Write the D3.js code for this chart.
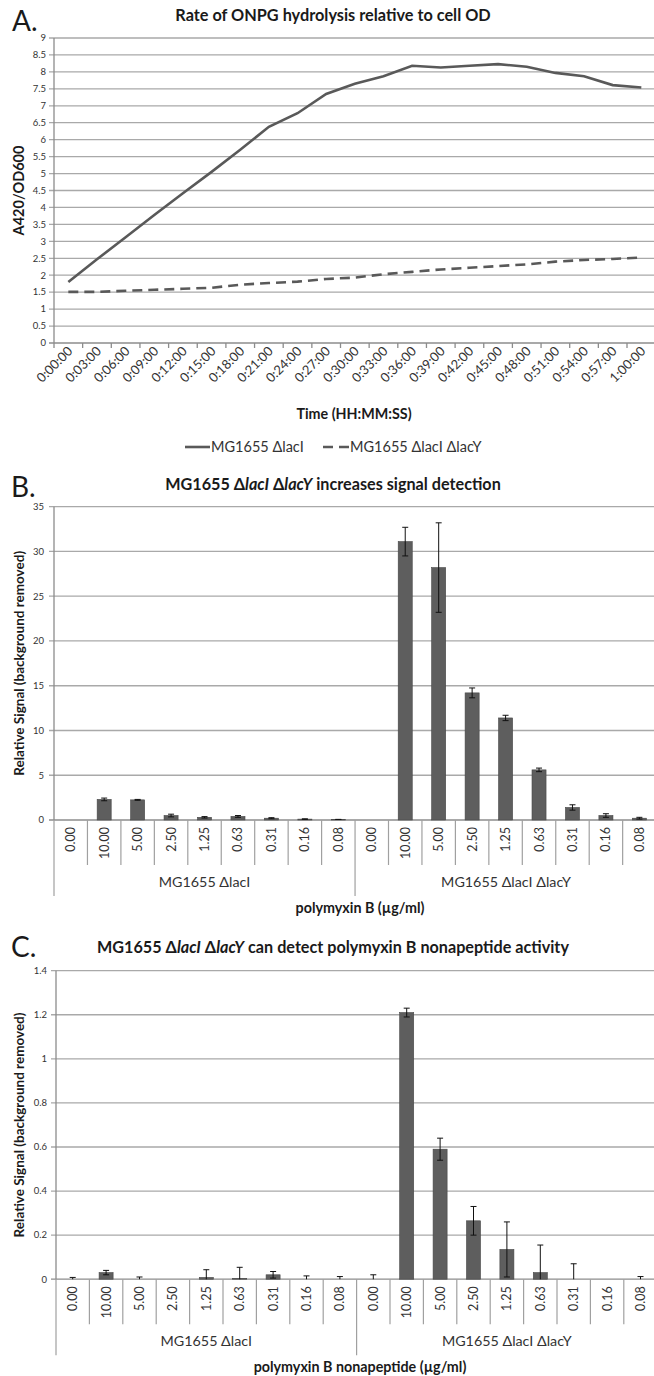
<!DOCTYPE html>
<html>
<head>
<meta charset="utf-8">
<script src="https://cdn.jsdelivr.net/npm/d3@7"></script>
<style>
  body { margin: 0; background: #fff; }
  svg { display: block; font-family: Lato, "Liberation Sans", sans-serif; }
</style>
</head>
<body>
<svg id="fig" width="654" height="1376"></svg>
<script>
// ---- panel A data: ONPG hydrolysis over time
const timeLabels = ['0:00:00','0:03:00','0:06:00','0:09:00','0:12:00','0:15:00','0:18:00',
  '0:21:00','0:24:00','0:27:00','0:30:00','0:33:00','0:36:00','0:39:00','0:42:00',
  '0:45:00','0:48:00','0:51:00','0:54:00','0:57:00','1:00:00'];
const rateLacI  = [1.8, 2.47, 3.12, 3.78, 4.42, 5.05, 5.7, 6.38, 6.78, 7.35, 7.65,
  7.87, 8.18, 8.13, 8.18, 8.23, 8.15, 7.97, 7.87, 7.61, 7.54];
const rateLacIY = [1.51, 1.51, 1.54, 1.57, 1.6, 1.63, 1.72, 1.77, 1.81, 1.89, 1.93,
  2.03, 2.1, 2.17, 2.22, 2.27, 2.32, 2.4, 2.45, 2.48, 2.52];
const ticksA = [0,0.5,1,1.5,2,2.5,3,3.5,4,4.5,5,5.5,6,6.5,7,7.5,8,8.5,9];
const legendA = ['MG1655  \u0394lacI', 'MG1655 \u0394lacI \u0394lacY'];

// ---- panels B and C: doses per strain
const doses = ['0.00','10.00','5.00','2.50','1.25','0.63','0.31','0.16','0.08'];
const strains = ['MG1655 \u0394lacI', 'MG1655 \u0394lacI \u0394lacY'];

const pmbLacI     = [0, 2.3, 2.25, 0.5, 0.3, 0.4, 0.2, 0.1, 0.05];
const pmbLacIErr  = [0, 0.15, 0.05, 0.15, 0.08, 0.1, 0.06, 0.03, 0.02];
const pmbLacIY    = [0, 31.1, 28.2, 14.2, 11.4, 5.6, 1.4, 0.5, 0.2];
const pmbLacIYErr = [0, 1.6, 5.0, 0.55, 0.3, 0.2, 0.3, 0.2, 0.1];
const ticksB = [0,5,10,15,20,25,30,35];

const pmbnLacI     = [0, 0.03, 0, 0, 0.008, 0.004, 0.02, 0, 0];
const pmbnLacIErr  = [0.008, 0.01, 0.01, 0, 0.035, 0.05, 0.015, 0.015, 0.012];
const pmbnLacIY    = [0, 1.21, 0.59, 0.265, 0.135, 0.03, 0, 0, 0];
const pmbnLacIYErr = [0.02, 0.02, 0.05, 0.065, 0.125, 0.125, 0.07, 0, 0.012];
const ticksC = [0,0.2,0.4,0.6,0.8,1,1.2,1.4];

const svg = d3.select('#fig');
const W = 654;
const gridCol = '#a9a9a9', axisCol = '#8c8c8c', txtCol = '#1a1a1a', barCol = '#5e5e5e';

function panelLetter(t, x, y) {
  svg.append('text').attr('x', x).attr('y', y).attr('font-size', 28)
    .attr('fill', txtCol).text(t);
}

// ================= Panel A =================
(function () {
  const left = 54, top = 38, bottom = 343;
  const x = d3.scaleBand().domain(timeLabels).range([left, left + 21 * 28.65]);
  const y = d3.scaleLinear().domain([0, 9]).range([bottom, top]);
  const g = svg.append('g');

  g.selectAll('.grid').data(ticksA).join('line')
    .attr('x1', left - 5).attr('x2', W)
    .attr('y1', d => y(d)).attr('y2', d => y(d))
    .attr('stroke', d => d === 0 ? axisCol : gridCol).attr('stroke-width', 1.3);
  g.selectAll('.yl').data(ticksA).join('text')
    .attr('x', left - 8).attr('y', d => y(d)).attr('dy', '0.35em')
    .attr('text-anchor', 'end').attr('font-size', 9.5).attr('fill', '#333')
    .text(d => d);
  g.append('line').attr('x1', left).attr('x2', left).attr('y1', top).attr('y2', bottom)
    .attr('stroke', axisCol).attr('stroke-width', 1.3);

  // ticks between categories
  const edges = timeLabels.map(d => x(d));
  g.selectAll('.xt').data(edges).join('line')
    .attr('x1', d => d).attr('x2', d => d).attr('y1', bottom).attr('y2', bottom + 5)
    .attr('stroke', axisCol).attr('stroke-width', 1.3);
  g.selectAll('.xl').data(timeLabels).join('text')
    .attr('transform', d => `translate(${x(d) + x.bandwidth() / 2 + 5},${bottom + 9}) rotate(-45)`)
    .attr('text-anchor', 'end').attr('font-size', 13).attr('fill', '#333')
    .text(d => d);

  const line = d3.line().x((d, i) => x(timeLabels[i]) + x.bandwidth() / 2).y(d => y(d));
  g.append('path').datum(rateLacI).attr('d', line).attr('fill', 'none')
    .attr('stroke', '#595959').attr('stroke-width', 2.6);
  g.append('path').datum(rateLacIY).attr('d', line).attr('fill', 'none')
    .attr('stroke', '#595959').attr('stroke-width', 2.6).attr('stroke-dasharray', '10,6');

  svg.append('text').attr('x', 333).attr('y', 21).attr('text-anchor', 'middle')
    .attr('font-size', 16.3).attr('font-weight', 'bold').attr('fill', txtCol)
    .text('Rate of ONPG hydrolysis relative to cell OD');
  svg.append('text').attr('transform', `translate(24,${(top + bottom) / 2}) rotate(-90)`)
    .attr('text-anchor', 'middle').attr('font-size', 14.5).attr('font-weight', 'bold')
    .attr('fill', txtCol).text('A420/OD600');
  svg.append('text').attr('x', 354).attr('y', 419).attr('text-anchor', 'middle')
    .attr('font-size', 14.3).attr('font-weight', 'bold').attr('fill', txtCol)
    .text('Time (HH:MM:SS)');

  // legend
  const ly = 447;
  svg.append('line').attr('x1', 185).attr('x2', 210).attr('y1', ly).attr('y2', ly)
    .attr('stroke', '#595959').attr('stroke-width', 2.6);
  svg.append('text').attr('x', 211).attr('y', ly).attr('dy', '0.35em')
    .attr('font-size', 14.5).attr('fill', '#333').text(legendA[0]);
  svg.append('line').attr('x1', 323).attr('x2', 350).attr('y1', ly).attr('y2', ly)
    .attr('stroke', '#595959').attr('stroke-width', 2.6).attr('stroke-dasharray', '10,6');
  svg.append('text').attr('x', 350).attr('y', ly).attr('dy', '0.35em')
    .attr('font-size', 14.5).attr('fill', '#333').text(legendA[1]);

  panelLetter('A.', 12, 31);
})();

// ================= Bar panels =================
function barPanel(o) {
  const cats = [];
  strains.forEach((s, si) => doses.forEach((d, di) => cats.push(si + '|' + di)));
  const values = o.v1.concat(o.v2);
  const errs = o.e1.concat(o.e2);
  const x = d3.scaleBand().domain(cats).range([o.left, o.left + 18 * o.step]);
  const y = d3.scaleLinear().domain([0, o.max]).range([o.bottom, o.top]);
  const g = svg.append('g');

  const clip = 'clip' + o.id;
  svg.append('clipPath').attr('id', clip).append('rect')
    .attr('x', o.left).attr('y', o.top - 10).attr('width', W - o.left).attr('height', o.bottom - o.top + 10);

  g.selectAll('.grid').data(o.ticks).join('line')
    .attr('x1', o.left - 5).attr('x2', W)
    .attr('y1', d => y(d)).attr('y2', d => y(d))
    .attr('stroke', d => d === 0 ? axisCol : gridCol).attr('stroke-width', 1.3);
  g.selectAll('.yl').data(o.ticks).join('text')
    .attr('x', o.labelRight).attr('y', d => y(d)).attr('dy', '0.35em')
    .attr('text-anchor', 'end').attr('font-size', 9.5).attr('fill', '#333')
    .text(d => d);
  g.append('line').attr('x1', o.left).attr('x2', o.left).attr('y1', o.top).attr('y2', o.bottom)
    .attr('stroke', axisCol).attr('stroke-width', 1.3);

  const bw = x.bandwidth() * 0.42;
  const cx = c => x(c) + x.bandwidth() / 2;
  g.selectAll('.bar').data(cats).join('rect')
    .attr('x', c => cx(c) - bw / 2).attr('width', bw)
    .attr('y', (c, i) => y(values[i])).attr('height', (c, i) => o.bottom - y(values[i]))
    .attr('fill', barCol).attr('stroke', '#474747').attr('stroke-width', 0.6);

  const eb = g.append('g').attr('clip-path', `url(#${clip})`)
    .attr('stroke', '#111').attr('stroke-width', 1);
  cats.forEach((c, i) => {
    if (!errs[i]) return;
    const hi = y(values[i] + errs[i]), lo = y(values[i] - errs[i]);
    eb.append('line').attr('x1', cx(c)).attr('x2', cx(c)).attr('y1', hi).attr('y2', lo);
    eb.append('line').attr('x1', cx(c) - 3).attr('x2', cx(c) + 3).attr('y1', hi).attr('y2', hi);
    eb.append('line').attr('x1', cx(c) - 3).attr('x2', cx(c) + 3).attr('y1', lo).attr('y2', lo);
  });

  // category separators and dose labels
  g.selectAll('.sep').data(cats.slice(1)).join('line')
    .attr('x1', c => x(c)).attr('x2', c => x(c))
    .attr('y1', o.bottom).attr('y2', (c, i) => (i + 1) % 9 === 0 ? o.bottom + 76 : o.bottom + 45)
    .attr('stroke', '#a0a0a0').attr('stroke-width', 1.2);
  g.append('line').attr('x1', o.left).attr('x2', o.left).attr('y1', o.bottom).attr('y2', o.bottom + 76)
    .attr('stroke', '#a0a0a0').attr('stroke-width', 1.2);
  g.selectAll('.xl').data(cats).join('text')
    .attr('transform', c => `translate(${cx(c) + 4.5},${o.bottom + 7}) rotate(-90)`)
    .attr('text-anchor', 'end').attr('font-size', 12.5).attr('fill', '#333')
    .text(c => doses[+c.split('|')[1]]);

  strains.forEach((s, si) => {
    const a = x(si + '|0'), b = si ? W + 3 : x('1|0');
    g.append('text').attr('x', (a + b) / 2).attr('y', o.bottom + 67)
      .attr('text-anchor', 'middle').attr('font-size', 14.3).attr('fill', '#333').text(s);
  });

  svg.append('text').attr('x', 360).attr('y', o.bottom + 93).attr('text-anchor', 'middle')
    .attr('font-size', 14.3).attr('font-weight', 'bold').attr('fill', txtCol).text(o.xTitle);
  svg.append('text').attr('transform', `translate(24,${(o.top + o.bottom) / 2}) rotate(-90)`)
    .attr('text-anchor', 'middle').attr('font-size', 13.5).attr('font-weight', 'bold')
    .attr('fill', txtCol).text('Relative Signal (background removed)');

  const t = svg.append('text').attr('x', 333).attr('y', o.titleY).attr('text-anchor', 'middle')
    .attr('font-size', 16.2).attr('font-weight', 'bold').attr('fill', txtCol);
  t.append('tspan').text('MG1655 \u0394');
  t.append('tspan').attr('font-style', 'italic').text('lacI');
  t.append('tspan').text(' \u0394');
  t.append('tspan').attr('font-style', 'italic').text('lacY');
  t.append('tspan').text(o.titleRest);
}

barPanel({
  id: 'B', left: 54, step: 33.45, top: 506.7, bottom: 820, max: 35, ticks: ticksB,
  labelRight: 44, v1: pmbLacI, e1: pmbLacIErr, v2: pmbLacIY, e2: pmbLacIYErr,
  xTitle: 'polymyxin  B (\u00b5g/ml)', titleY: 490, titleRest: ' increases signal detection'
});
panelLetter('B.', 11, 497);

barPanel({
  id: 'C', left: 56, step: 33.4, top: 970.7, bottom: 1279.2, max: 1.4, ticks: ticksC,
  labelRight: 47, v1: pmbnLacI, e1: pmbnLacIErr, v2: pmbnLacIY, e2: pmbnLacIYErr,
  xTitle: 'polymyxin B nonapeptide  (\u00b5g/ml)', titleY: 953, titleRest: ' can detect polymyxin B nonapeptide activity'
});
panelLetter('C.', 11, 957);
</script>
</body>
</html>
